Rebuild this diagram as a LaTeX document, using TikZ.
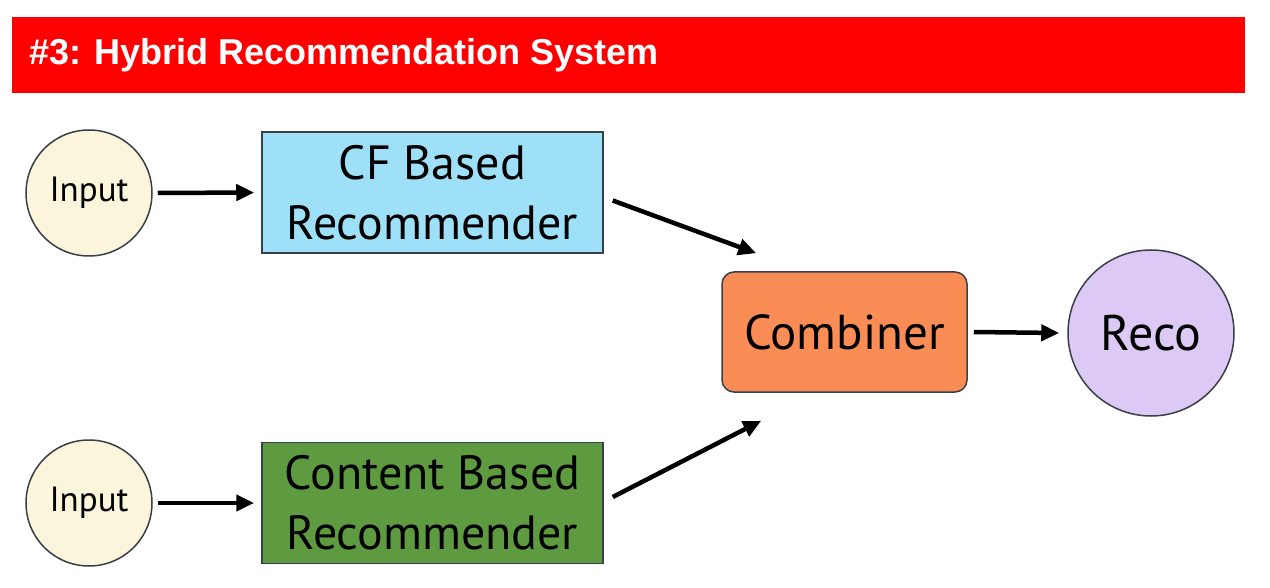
\documentclass[tikz,border=0pt]{standalone}
\usepackage{fontspec}
\setmainfont{PT Sans}
\newfontfamily\titlefont{Liberation Sans}
\usetikzlibrary{arrows.meta}
\definecolor{ban}{HTML}{FF0000}
\definecolor{cream}{HTML}{FBF5DC}
\definecolor{cfblue}{HTML}{9EE0F8}
\definecolor{cbgreen}{HTML}{5E9B40}
\definecolor{comb}{HTML}{F98D55}
\definecolor{reco}{HTML}{DDC9F5}
\definecolor{edge}{HTML}{3A4048}
\tikzset{
 inp/.style={circle,draw=edge,line width=1.5pt,fill=cream,minimum size=126pt,inner sep=0pt,font=\fontsize{35}{38}\selectfont},
 boxn/.style={draw=edge,line width=1.5pt,minimum width=341pt,minimum height=121pt,align=center,font=\fontsize{48}{60}\selectfont},
 arr/.style={-{Triangle[length=18pt,width=16pt]},line width=4.5pt,black}
}
\begin{document}
\begin{tikzpicture}[x=1pt,y=-1pt]
\useasboundingbox (0,0) rectangle (1270,588);
\fill[white] (0,0) rectangle (1270,588);
\fill[ban] (12,17) rectangle (1245,93);
\node[anchor=west,text=white,font=\titlefont\bfseries\fontsize{36}{38}\selectfont] (title) at (26,55) {\#3: Hybrid Recommendation System};
\node[inp] (in1) at (89,193) {Input};
\node[inp] (in2) at (89,503) {Input};
\node[boxn,fill=cfblue] (cf) at (432.5,192.5) {CF Based\\Recommender};
\node[boxn,fill=cbgreen] (cb) at (432.5,503) {Content Based\\Recommender};
\node[draw=edge,line width=1.5pt,fill=comb,rounded corners=12pt,minimum width=245pt,minimum height=120pt,font=\fontsize{49}{52}\selectfont] (cmb) at (844.5,332) {Combiner};
\node[circle,draw=edge,line width=1.5pt,fill=reco,minimum size=166pt,inner sep=0pt,font=\fontsize{50}{52}\selectfont] (rc) at (1151,333) {Reco};
\draw[arr] ([xshift=5pt]in1.east) -- ([xshift=-7pt]cf.west);
\draw[arr] ([xshift=5pt]in2.east) -- ([xshift=-7pt]cb.west);
\draw[arr] ([shift={(9pt,-8pt)}]cf.east) -- ([shift={(35pt,18pt)}]cmb.north west);
\draw[arr] ([shift={(9pt,6pt)}]cb.east) -- ([shift={(40pt,-28pt)}]cmb.south west);
\draw[arr] ([xshift=6pt]cmb.east) -- ([xshift=-8pt]rc.west);
\end{tikzpicture}
\end{document}
